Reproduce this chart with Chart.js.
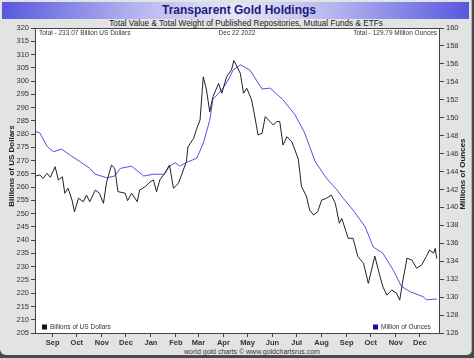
<!DOCTYPE html>
<html><head><meta charset="utf-8">
<script src="https://cdn.jsdelivr.net/npm/chart.js@4.4.0/dist/chart.umd.min.js"></script>
<style>
html,body{margin:0;padding:0;}
body{width:474px;height:358px;background:#4a4a4a;position:relative;overflow:hidden;font-family:"Liberation Sans",Arial,sans-serif;}
#panel{position:absolute;left:0;top:0;width:471px;height:355px;background:#e3e3e3;border-right:1px solid #b5b5b5;border-radius:0 0 5px 6px;}
#banner{position:absolute;left:2px;top:2px;width:467px;height:17px;background:linear-gradient(to right,#5858e0 0%,#b8b8f0 30%,#e6e6fa 50%,#b8b8f0 70%,#5858e0 100%);}
.t{position:absolute;white-space:nowrap;transform:translateX(-50%);}
#title{left:239px;top:3px;font-size:12px;line-height:15px;font-weight:bold;color:#1c1c78;}
#subtitle{left:246px;top:19px;font-size:8.2px;line-height:10px;color:#222;}
#footer{left:252px;top:347px;font-size:7px;line-height:9px;color:#333;}
canvas{position:absolute;left:0;top:0;}
</style></head>
<body>
<div id="panel"></div>
<div id="banner"></div>
<div class="t" id="title">Transparent Gold Holdings</div>
<div class="t" id="subtitle">Total Value &amp; Total Weight of Published Repositories, Mutual Funds &amp; ETFs</div>
<div class="t" id="footer">world gold charts © www.goldchartsrus.com</div>
<canvas id="c" width="474" height="358"></canvas>
<script>
// ---- data ----
const valueDates = ['2021-08-11','2021-08-16','2021-08-20','2021-08-25','2021-08-29','2021-09-04','2021-09-08','2021-09-13','2021-09-16','2021-09-20','2021-09-25','2021-09-28','2021-10-03','2021-10-09','2021-10-13','2021-10-17','2021-10-24','2021-10-29','2021-11-03','2021-11-07','2021-11-13','2021-11-17','2021-11-21','2021-11-30','2021-12-03','2021-12-08','2021-12-15','2021-12-18','2021-12-25','2021-12-31','2022-01-04','2022-01-08','2022-01-12','2022-01-18','2022-01-24','2022-01-29','2022-02-04','2022-02-08','2022-02-14','2022-02-16','2022-02-23','2022-02-27','2022-03-03','2022-03-07','2022-03-11','2022-03-15','2022-03-19','2022-03-26','2022-03-30','2022-04-05','2022-04-11','2022-04-14','2022-04-17','2022-04-22','2022-04-26','2022-04-30','2022-05-06','2022-05-10','2022-05-14','2022-05-19','2022-05-23','2022-05-29','2022-06-02','2022-06-06','2022-06-10','2022-06-14','2022-06-19','2022-06-25','2022-07-03','2022-07-07','2022-07-13','2022-07-17','2022-07-22','2022-07-27','2022-08-01','2022-08-07','2022-08-13','2022-08-18','2022-08-23','2022-08-26','2022-09-03','2022-09-09','2022-09-15','2022-09-22','2022-09-28','2022-10-06','2022-10-12','2022-10-16','2022-10-21','2022-10-27','2022-11-02','2022-11-06','2022-11-10','2022-11-15','2022-11-21','2022-11-27','2022-12-03','2022-12-09','2022-12-13','2022-12-18','2022-12-20','2022-12-22'];
const valueBillions = [264.2,264.6,263.3,265.2,263.7,267.7,262.7,263.9,257.7,259.6,255.1,250.7,255.8,254.5,257.0,254.5,258.9,257.7,253.9,262.0,268.3,267.1,258.3,257.7,254.9,257.7,254.5,258.9,260.2,262.0,262.7,258.3,262.7,265.2,268.3,259.6,261.4,264.6,269.6,275.2,278.4,282.2,285.3,301.6,296.6,288.4,294.1,299.1,295.4,301.6,304.2,307.7,306.0,302.9,295.4,297.3,292.9,286.6,279.7,280.3,286.6,284.7,283.4,284.7,284.7,275.9,279.0,277.1,270.6,260.2,256.7,251.4,249.5,250.7,255.1,255.8,257.0,253.9,246.4,248.2,240.7,240.7,233.8,231.3,223.7,234.0,226.9,222.5,219.3,221.2,220.0,217.4,225.0,233.2,232.5,229.4,230.6,233.8,236.3,235.1,236.9,233.07];

const weightDates = ['2021-08-10','2021-08-16','2021-08-25','2021-09-02','2021-09-12','2021-09-23','2021-10-05','2021-10-17','2021-10-24','2021-11-07','2021-11-17','2021-11-24','2021-12-08','2021-12-23','2022-01-04','2022-01-18','2022-01-23','2022-01-31','2022-02-06','2022-02-14','2022-02-27','2022-03-07','2022-03-15','2022-03-19','2022-03-30','2022-04-07','2022-04-13','2022-04-22','2022-05-04','2022-05-19','2022-05-29','2022-06-14','2022-06-29','2022-07-11','2022-07-24','2022-08-07','2022-08-20','2022-08-28','2022-09-09','2022-09-24','2022-10-04','2022-10-16','2022-10-29','2022-11-08','2022-11-19','2022-12-05','2022-12-09','2022-12-22'];
const weightMoz = [148.5,148.3,146.8,146.2,146.5,145.8,145.1,144.35,143.7,143.3,143.5,144.35,144.6,143.5,143.7,143.7,144.5,145.0,144.6,145.0,145.5,147.15,149.7,152.05,153.1,154.2,155.3,155.9,155.3,153.2,153.3,152.0,150.3,148.3,145.1,143.25,141.95,141.0,139.7,137.85,135.6,134.9,133.0,131.2,130.6,130.05,129.7,129.79];

const monthTickDates = ['2021-09-01','2021-10-01','2021-11-01','2021-12-01','2022-01-01','2022-02-01','2022-03-01','2022-04-01','2022-05-01','2022-06-01','2022-07-01','2022-08-01','2022-09-01','2022-10-01','2022-11-01','2022-12-01'];
const monthTickLabels = ['Sep','Oct','Nov','Dec','Jan','Feb','Mar','Apr','May','Jun','Jul','Aug','Sep','Oct','Nov','Dec'];
const xStartDate = '2021-08-10', xEndDate = '2022-12-26';
const leftAxis = {min:205, max:320, step:5};
const rightAxis = {min:126, max:160, step:2};
const totalValueText = 'Total - 233.07 Billion US Dollars';
const totalWeightText = 'Total - 129.79 Million Ounces';
const dateText = 'Dec 22 2022';

// ---- helpers ----
const base = Date.parse('2021-09-01T00:00:00Z');
const day = d => Math.round((Date.parse(d + 'T00:00:00Z') - base) / 86400000);
const monthTickDays = monthTickDates.map(day);

const FONT = '"Liberation Sans", Arial, sans-serif';
const decor = {
  id: 'decor',
  beforeDraw(chart) {
    const {ctx, chartArea: a} = chart;
    ctx.save();
    ctx.fillStyle = '#ffffff';
    ctx.fillRect(a.left, a.top, a.right - a.left, a.bottom - a.top);
    ctx.restore();
  },
  afterDraw(chart) {
    const {ctx, chartArea: a} = chart;
    ctx.save();
    ctx.strokeStyle = '#444';
    ctx.lineWidth = 1;
    ctx.strokeRect(a.left + 0.5, a.top + 0.5, a.right - a.left - 1, a.bottom - a.top);
    // header texts inside plot
    ctx.fillStyle = '#333';
    ctx.font = '6.5px ' + FONT;
    ctx.textBaseline = 'middle';
    ctx.textAlign = 'left';
    ctx.fillText(totalValueText, a.left + 4, a.top + 5);
    ctx.textAlign = 'center';
    ctx.fillText(dateText, 237, a.top + 5);
    ctx.textAlign = 'right';
    ctx.fillText(totalWeightText, a.right - 3, a.top + 5);
    // legend
    const ly = a.bottom - 6;
    ctx.fillStyle = '#111';
    ctx.fillRect(a.left + 7, ly - 2.5, 5, 5);
    ctx.fillStyle = '#333';
    ctx.textAlign = 'left';
    ctx.fillText('Billions of US Dollars', a.left + 15, ly);
    ctx.fillStyle = '#1010b0';
    ctx.fillRect(a.right - 67, ly - 2.5, 5, 5);
    ctx.fillStyle = '#333';
    ctx.fillText('Million of Ounces', a.right - 59, ly);
    // axis titles
    ctx.font = 'bold 8px ' + FONT;
    ctx.fillStyle = '#222';
    ctx.textAlign = 'center';
    ctx.save();
    ctx.translate(12, 166);
    ctx.rotate(-Math.PI / 2);
    ctx.fillText('Billions of US Dollars', 0, 0);
    ctx.restore();
    ctx.save();
    ctx.translate(463, 174);
    ctx.rotate(-Math.PI / 2);
    ctx.fillText('Millions of Ounces', 0, 0);
    ctx.restore();
    ctx.restore();
  }
};

const tickFont = {family: FONT, size: 7.5};
new Chart(document.getElementById('c'), {
  type: 'line',
  data: {
    datasets: [
      {label: 'Billions of US Dollars', data: valueDates.map((d, i) => ({x: day(d), y: valueBillions[i]})),
       borderColor: '#222', borderWidth: 1, pointRadius: 0, tension: 0, yAxisID: 'yL'},
      {label: 'Million of Ounces', data: weightDates.map((d, i) => ({x: day(d), y: weightMoz[i]})),
       borderColor: '#5252e2', borderWidth: 1, pointRadius: 0, tension: 0, yAxisID: 'yR'}
    ]
  },
  options: {
    responsive: false, animation: false,
    layout: {padding: {top: 28, left: 0, right: 0, bottom: 0}},
    plugins: {legend: {display: false}, tooltip: {enabled: false}},
    scales: {
      x: {
        type: 'linear', min: day(xStartDate), max: day(xEndDate),
        afterBuildTicks: s => { s.ticks = monthTickDays.map(v => ({value: v})); },
        afterFit: s => { s.height = 25; },
        ticks: {autoSkip: false, maxRotation: 0, padding: 1, color: '#333',
                font: {family: FONT, size: 7.5, weight: 'bold'},
                callback: v => { const i = monthTickDays.indexOf(v); return i >= 0 ? monthTickLabels[i] : ''; }},
        grid: {drawOnChartArea: false, tickLength: 4, color: '#444'},
        border: {display: false}
      },
      yL: {
        position: 'left', min: leftAxis.min, max: leftAxis.max,
        afterFit: s => { s.width = 35; },
        ticks: {stepSize: leftAxis.step, autoSkip: false, padding: 2, color: '#333', font: tickFont},
        grid: {drawOnChartArea: false, tickLength: 4, color: '#444'},
        border: {display: false}
      },
      yR: {
        position: 'right', min: rightAxis.min, max: rightAxis.max,
        afterFit: s => { s.width = 34; },
        ticks: {stepSize: rightAxis.step, autoSkip: false, padding: 2, color: '#333', font: tickFont},
        grid: {drawOnChartArea: false, tickLength: 4, color: '#444'},
        border: {display: false}
      }
    }
  },
  plugins: [decor]
});
</script>
</body></html>
